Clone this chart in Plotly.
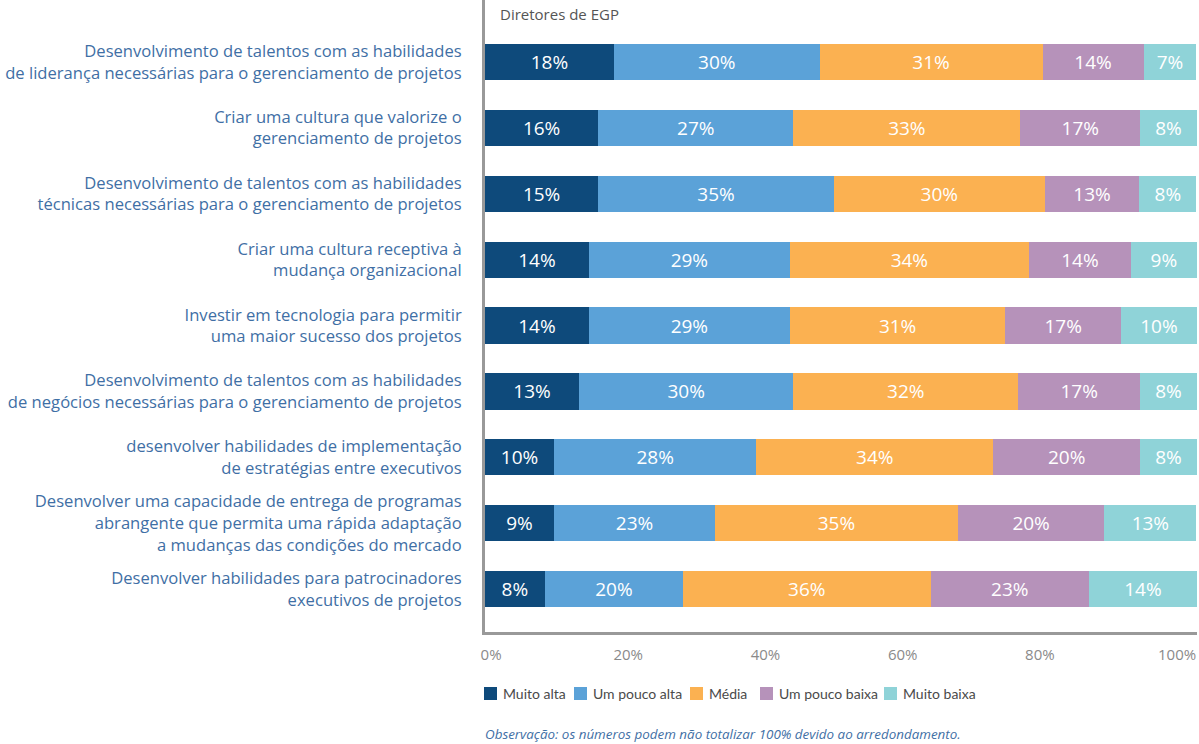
import plotly.graph_objects as go

categories = [
    "Desenvolvimento de talentos com as habilidades<br>de liderança necessárias para o gerenciamento de projetos",
    "Criar uma cultura que valorize o<br>gerenciamento de projetos",
    "Desenvolvimento de talentos com as habilidades<br>técnicas necessárias para o gerenciamento de projetos",
    "Criar uma cultura receptiva à<br>mudança organizacional",
    "Investir em tecnologia para permitir<br>uma maior sucesso dos projetos",
    "Desenvolvimento de talentos com as habilidades<br>de negócios necessárias para o gerenciamento de projetos",
    "desenvolver habilidades de implementação<br>de estratégias entre executivos",
    "Desenvolver uma capacidade de entrega de programas<br>abrangente que permita uma rápida adaptação<br>a mudanças das condições do mercado",
    "Desenvolver habilidades para patrocinadores<br>executivos de projetos",
]

series_names = ["Muito alta", "Um pouco alta", "Média", "Um pouco baixa", "Muito baixa"]

muito_alta = [18.1, 15.9, 15.9, 14.6, 14.6, 13.2, 9.7, 9.7, 8.4]
um_pouco_alta = [28.9, 27.4, 33.1, 28.2, 28.2, 30.1, 28.4, 22.6, 19.4]
media = [31.3, 31.9, 29.6, 33.6, 30.3, 31.6, 33.3, 34.1, 34.8]
um_pouco_baixa = [14.2, 16.8, 13.3, 14.3, 16.2, 17.1, 20.6, 20.6, 22.2]
muito_baixa = [7.4, 8.0, 8.0, 9.3, 10.7, 8.0, 8.0, 12.9, 15.2]

lab_muito_alta = [18, 16, 15, 14, 14, 13, 10, 9, 8]
lab_um_pouco_alta = [30, 27, 35, 29, 29, 30, 28, 23, 20]
lab_media = [31, 33, 30, 34, 31, 32, 34, 35, 36]
lab_um_pouco_baixa = [14, 17, 13, 14, 17, 17, 20, 20, 23]
lab_muito_baixa = [7, 8, 8, 9, 10, 8, 8, 13, 14]

x_tick_labels = ["0%", "20%", "40%", "60%", "80%", "100%"]

colors = ["#0E4A7B", "#5BA2D8", "#FBB151", "#B692BA", "#8FD3D8"]

values = [muito_alta, um_pouco_alta, media, um_pouco_baixa, muito_baixa]
labels = [lab_muito_alta, lab_um_pouco_alta, lab_media, lab_um_pouco_baixa, lab_muito_baixa]

FONT = "Open Sans"
LEG_FONT = "Lato"
LABEL_BLUE = "#3F6FA5"

fig = go.Figure()
for name, vals, labs, col in zip(series_names, values, labels, colors):
    fig.add_trace(go.Bar(
        y=categories, x=vals, name=name, orientation="h",
        marker=dict(color=col, line=dict(width=0)),
        text=[f"{v}%" for v in labs], textposition="inside",
        insidetextanchor="middle",
        textfont=dict(color="white", size=19, family=FONT),
        width=0.55, showlegend=False, hoverinfo="skip",
    ))

# plot area geometry in pixels (for paper conversions of decorations)
L, R, T, B = 485, 1197, 0, 632
W, H = 1199, 744
def px(x):
    return (x - L) / (R - L)
def py(y):
    return (B - y) / (B - T)

tickvals = [0.85 + 19.27 * i for i in range(len(x_tick_labels))]

fig.update_layout(
    width=W, height=H,
    margin=dict(l=L, r=W - R, t=T, b=H - B, pad=0, autoexpand=False),
    barmode="stack",
    plot_bgcolor="white", paper_bgcolor="white",
    font=dict(family=FONT),
    uniformtext=dict(mode="show", minsize=19),
    xaxis=dict(
        range=[0, 100], showgrid=False, zeroline=False, automargin=False,
        showline=True, linecolor="#999999", linewidth=3,
        tickvals=tickvals, ticktext=x_tick_labels, ticks="",
        tickfont=dict(color="#8a8a8a", size=15, family=FONT),
        ticklabelstandoff=7,
    ),
    yaxis=dict(
        type="category", categoryorder="array", categoryarray=categories,
        range=[8.65, -0.94], showgrid=False, zeroline=False, automargin=False,
        showline=True, linecolor="#999999", linewidth=3,
        ticks="", ticklabelstandoff=17,
        tickfont=dict(color=LABEL_BLUE, size=16.6, family=FONT),
    ),
)

fig.add_annotation(
    text="Diretores de EGP", xref="paper", yref="paper",
    x=px(498), y=py(14), xanchor="left", yanchor="middle",
    showarrow=False, font=dict(color="#555555", size=15, family=FONT),
)

# manual legend
legend_px = [484, 574, 690, 760, 884]
for name, col, lx in zip(series_names, colors, legend_px):
    fig.add_shape(
        type="rect", xref="paper", yref="paper",
        x0=px(lx), x1=px(lx + 13), y0=py(700), y1=py(687),
        fillcolor=col, line=dict(width=0),
    )
    fig.add_annotation(
        text=name, xref="paper", yref="paper",
        x=px(lx + 17), y=py(693), xanchor="left", yanchor="middle",
        showarrow=False, font=dict(color="#4a4a4a", size=14, family=LEG_FONT),
    )

fig.add_annotation(
    text="<i>Observação: os números podem não totalizar 100% devido ao arredondamento.</i>",
    xref="paper", yref="paper", x=px(483), y=py(734),
    xanchor="left", yanchor="middle", showarrow=False,
    font=dict(color=LABEL_BLUE, size=13.4, family=FONT),
)

fig.write_html("out.html")
